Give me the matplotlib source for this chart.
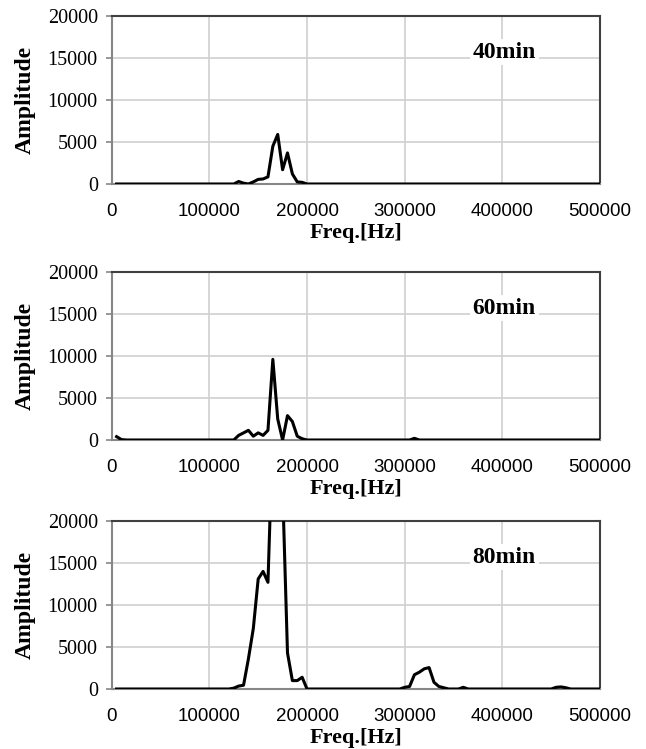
import numpy as np
import matplotlib
matplotlib.use("Agg")
import matplotlib.pyplot as plt

# sampling grid of the spectrum (Hz)
freq = np.arange(5000, 500001, 5000)

# amplitude, one value per 5 kHz bin (5k .. 500k)
amp_40 = [
    0, 0, 0, 0, 0, 0, 0, 0, 0, 0,                    # 5k-50k
    0, 0, 0, 0, 0, 0, 0, 0, 0, 0,                    # 55k-100k
    0, 0, 0, 0, 0, 300, 100, 0, 250, 550,            # 105k-150k
    600, 850, 4500, 5900, 1700, 3700, 1200, 250, 200, 0,  # 155k-200k
    0, 0, 0, 0, 0, 0, 0, 0, 0, 0,
    0, 0, 0, 0, 0, 0, 0, 0, 0, 0,
    0, 0, 0, 0, 0, 0, 0, 0, 0, 0,
    0, 0, 0, 0, 0, 0, 0, 0, 0, 0,
    0, 0, 0, 0, 0, 0, 0, 0, 0, 0,
    0, 0, 0, 0, 0, 0, 0, 0, 0, 0,
]
amp_60 = [
    400, 50, 0, 0, 0, 0, 0, 0, 0, 0,
    0, 0, 0, 0, 0, 0, 0, 0, 0, 0,
    0, 0, 0, 0, 0, 550, 850, 1150, 450, 850,
    550, 1150, 9600, 2500, 0, 2900, 2200, 450, 150, 0,
    0, 0, 0, 0, 0, 0, 0, 0, 0, 0,
    0, 0, 0, 0, 0, 0, 0, 0, 0, 0,
    0, 200, 0, 0, 0, 0, 0, 0, 0, 0,
    0, 0, 0, 0, 0, 0, 0, 0, 0, 0,
    0, 0, 0, 0, 0, 0, 0, 0, 0, 0,
    0, 0, 0, 0, 0, 0, 0, 0, 0, 0,
]
amp_80 = [
    0, 0, 0, 0, 0, 0, 0, 0, 0, 0,
    0, 0, 0, 0, 0, 0, 0, 0, 0, 0,
    0, 0, 0, 0, 100, 350, 450, 3600, 7200, 13100,
    14000, 12700, 31000, 40000, 24000, 4300, 1000, 1000, 1400, 0,
    0, 0, 0, 0, 0, 0, 0, 0, 0, 0,
    0, 0, 0, 0, 0, 0, 0, 0, 0, 200,
    300, 1700, 2000, 2400, 2550, 800, 300, 150, 0, 0,
    0, 200, 0, 0, 0, 0, 0, 0, 0, 0,
    0, 0, 0, 0, 0, 0, 0, 0, 0, 0,
    200, 250, 150, 0, 0, 0, 0, 0, 0, 0,
]
series = [amp_40, amp_60, amp_80]
labels = ["40min", "60min", "80min"]

xticks = [0, 100000, 200000, 300000, 400000, 500000]
yticks = [0, 5000, 10000, 15000, 20000]

fig = plt.figure(figsize=(6.46, 7.49), dpi=100)
W, H = 646, 749
tops = [16, 272, 521]
ax_h = 168

for top, amp, lab in zip(tops, series, labels):
    ax = fig.add_axes([111.7 / W, 1 - (top + ax_h) / H, 488.3 / W, ax_h / H])
    ax.plot(freq, amp, color="black", lw=2.2, zorder=3)
    ax.set_xlim(0, 500000)
    ax.set_ylim(0, 20000)
    ax.set_xticks(xticks)
    ax.set_yticks(yticks)
    ax.set_xticklabels([str(t) for t in xticks], family="Liberation Sans", fontsize=13.5)
    ax.set_yticklabels([str(t) for t in yticks], family="Liberation Serif", fontsize=14.5)
    ax.grid(True, color="#d0d0d0", lw=1.2, zorder=0)
    ax.tick_params(axis="x", length=0, pad=14)
    ax.tick_params(axis="y", direction="out", length=4, width=1.2, color="#868686", pad=6)
    ax.spines["left"].set_color("#868686")
    ax.spines["bottom"].set_color("#868686")
    for s in ["top", "right"]:
        ax.spines[s].set_color("#404040")
    for s in ax.spines.values():
        s.set_linewidth(1.5)
    ax.set_ylabel("Amplitude", family="Liberation Serif", fontweight="bold", fontsize=17)
    ax.yaxis.set_label_coords(-0.155, 0.5)
    ax.set_xlabel("Freq.[Hz]", family="Liberation Serif", fontweight="bold", fontsize=16)
    ax.xaxis.set_label_coords(0.5, -0.232)
    ax.text(402000, 15700, lab, family="Liberation Serif", fontweight="bold", fontsize=17,
            ha="center", va="center", zorder=4,
            bbox=dict(facecolor="white", edgecolor="none", pad=2))

fig.savefig("out.png", dpi=100)
